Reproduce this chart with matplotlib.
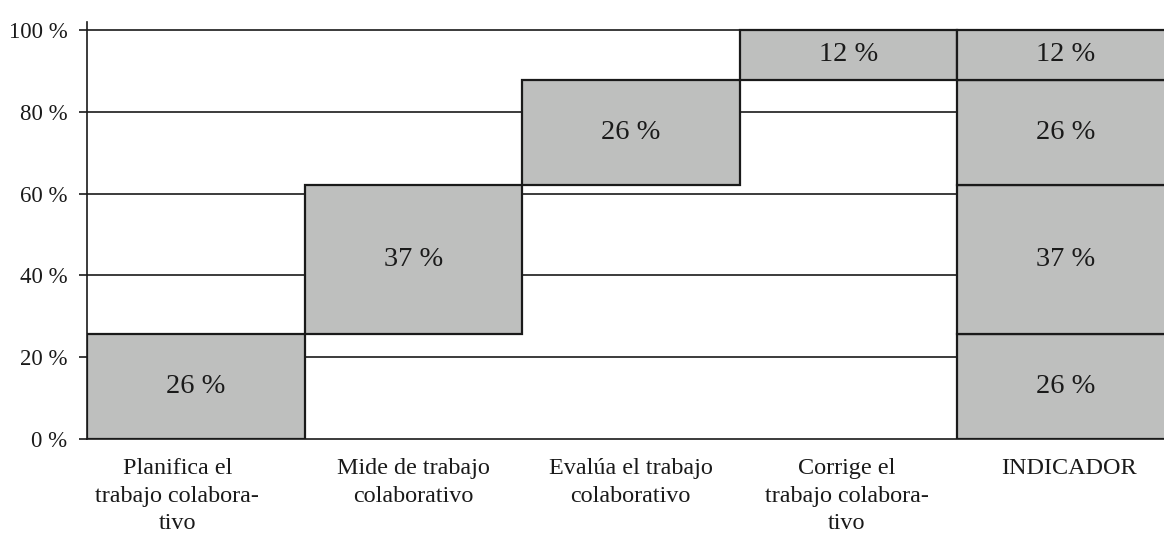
import matplotlib
matplotlib.use("Agg")
import matplotlib.pyplot as plt
import numpy as np

categories = ["Planifica el\ntrabajo colabora-\ntivo", "Mide de trabajo\ncolaborativo",
              "Evalúa el trabajo\ncolaborativo", "Corrige el\ntrabajo colabora-\ntivo", "INDICADOR"]
values = [25.6, 36.6, 25.6, 12.2]
value_labels = ["26 %", "37 %", "26 %", "12 %"]
y_ticks = [0, 20, 40, 60, 80, 100]
y_tick_labels = ["0 %", "20 %", "40 %", "60 %", "80 %", "100 %"]

plt.rcParams['font.family'] = ['Liberation Serif', 'DejaVu Serif']

fig = plt.figure(figsize=(11.64, 5.34), dpi=100)
ax = fig.add_axes([87/1164, 95/534, 1087.5/1164, 417.2/534])

bar_color = '#bebfbe'
edge_lw = 1.6
bottoms = np.concatenate([[0], np.cumsum(values)[:-1]])
n = len(values)
x = np.arange(len(categories)) + 0.5
label_shift = np.array([-0.085, 0.0, 0.0, -0.007, 0.016])

for i, (v, b, lab) in enumerate(zip(values, bottoms, value_labels)):
    ax.bar(x[i], v, bottom=b, width=1.0, color=bar_color, edgecolor='#1a1a1a',
           linewidth=edge_lw, zorder=3)
    ax.text(x[i], b + v / 2, lab, ha='center', va='center', fontsize=20.5, color='#1a1a1a', zorder=4)
    # stacked total column
    ax.bar(x[n], v, bottom=b, width=1.0, color=bar_color, edgecolor='#1a1a1a',
           linewidth=edge_lw, zorder=3)
    ax.text(x[n], b + v / 2, lab, ha='center', va='center', fontsize=20.5, color='#1a1a1a', zorder=4)

for yv in y_ticks[1:]:
    ax.axhline(yv, color='#1a1a1a', lw=1.2, zorder=1)

ax.set_xlim(0, len(categories))
ax.set_ylim(0, 102)
ax.set_yticks(y_ticks)
ax.set_yticklabels(y_tick_labels, fontsize=16.5, color='#1a1a1a')
ax.set_xticks(x + label_shift)
ax.set_xticklabels(categories, fontsize=17.4, color='#1a1a1a')
for t in ax.get_xticklabels():
    t.set_linespacing(1.40)
ax.tick_params(axis='x', length=0, pad=14)
ax.tick_params(axis='y', length=6, width=1.2, color='#1a1a1a', pad=8)
for s in ['top', 'right']:
    ax.spines[s].set_visible(False)
for s in ['left', 'bottom']:
    ax.spines[s].set_linewidth(1.2)
    ax.spines[s].set_color('#1a1a1a')

fig.savefig('out.png', dpi=100)
